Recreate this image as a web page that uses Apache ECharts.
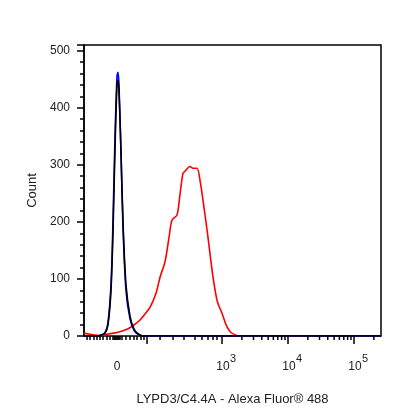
<!DOCTYPE html>
<html><head><meta charset="utf-8">
<script src="https://cdn.jsdelivr.net/npm/echarts@6/dist/echarts.min.js"></script>
<style>html,body{margin:0;padding:0;background:#fff}#c{width:416px;height:416px}</style>
</head><body><div id="c"></div>
<script>
// x in display units: 10^3 -> 3, 10^4 -> 4, 10^5 -> 5 (biexponential scale)
const redX=[0.909,1.0,1.152,1.3,1.409,1.561,1.65,1.758,1.83,1.909,2.0,2.061,2.136,2.2,2.242,2.318,2.36,2.409,2.45,2.515,2.56,2.621,2.67,2.712,2.78,2.864,2.93,3.0,3.06,3.121,3.2,3.273,5.409];
const redY=[5,3,1,4,6,12,18,28,38,50,75,103,130,175,203,212,245,285,290,297,294,294,270,238,180,103,60,40,20,8,2,0,0];
const blkX=[0.909,1.076,1.152,1.227,1.273,1.318,1.348,1.379,1.409,1.424,1.439,1.470,1.5,1.545,1.606,1.667,1.727,1.803,5.409];
const blkY=[0,0,1,5,20,80,180,330,440,448,430,320,200,90,35,12,4,0,0];
const bluY=[0,0,1,6,24,90,200,350,455,462,440,320,190,80,30,10,3,0,0];
const minorTicks=[0.955,1.0,1.061,1.106,1.152,1.197,1.258,1.303,1.348,1.364,1.379,1.394,1.409,1.424,1.439,1.455,1.485,1.545,1.606,1.667,1.712,1.773,1.818,2.061,2.258,2.424,2.591,2.697,2.788,2.864,2.924];
const majorTicks=[1.864,3,4,5];
const xLabels=[{v:1.409,t:'0'},{v:3,t:'10',s:'3'},{v:4,t:'10',s:'4'},{v:5,t:'10',s:'5'}];
for(let d=3;d<=5;d++)for(let k=2;k<=9;k++){const v=d+Math.log10(k);if(v<5.409)minorTicks.push(v);}

const pair=(xs,ys)=>xs.map((x,i)=>[x,ys[i]]);
const tickData=minorTicks.map(v=>[v,4]).concat(majorTicks.map(v=>[v,8]));
const chart=echarts.init(document.getElementById('c'));
chart.setOption({
  animation:false,
  grid:{left:84,right:35,top:45,bottom:80,show:true,borderColor:'#000',borderWidth:1.5,backgroundColor:'transparent'},
  xAxis:{type:'value',min:0.909,max:5.409,axisLine:{show:false},axisTick:{show:false},axisLabel:{show:false},splitLine:{show:false},
    name:'LYPD3/C4.4A - Alexa Fluor® 488',nameLocation:'middle',nameGap:57,nameTextStyle:{fontFamily:'Liberation Sans',fontSize:13,color:'#222'}},
  yAxis:{type:'value',min:0,max:510,interval:100,minorTick:{show:true,splitNumber:5,length:4,lineStyle:{color:'#000',width:1.5}},
    axisLine:{show:true,lineStyle:{color:'#000',width:1.5}},axisTick:{show:true,length:7,lineStyle:{color:'#000',width:1.5}},
    splitLine:{show:false},axisLabel:{margin:14,color:'#222',fontFamily:'Liberation Sans',fontSize:12,formatter:v=>v%100===0?v:''},
    name:'Count',nameLocation:'middle',nameGap:42,nameTextStyle:{fontFamily:'Liberation Sans',fontSize:13,color:'#222'}},
  series:[
    {type:'line',data:pair(redX,redY),showSymbol:false,smooth:0.3,lineStyle:{color:'#ff0000',width:1.6},z:3},
    {type:'line',data:pair(blkX,bluY),showSymbol:false,smooth:0.3,lineStyle:{color:'#0000ff',width:1.6},z:4},
    {type:'line',data:pair(blkX,blkY),showSymbol:false,smooth:0.3,lineStyle:{color:'#000',width:1.6},z:5},
    {type:'custom',clip:false,data:tickData,z:6,renderItem:(p,api)=>{
      const pt=api.coord([api.value(0),0]);const y0=p.coordSys.y+p.coordSys.height;
      return {type:'line',shape:{x1:pt[0],y1:y0,x2:pt[0],y2:y0+api.value(1)},style:{stroke:'#000',lineWidth:1.5}};}},
    {type:'custom',clip:false,data:xLabels.map(l=>[l.v]),z:6,renderItem:(p,api)=>{
      const l=xLabels[p.dataIndex];const pt=api.coord([l.v,0]);const y0=p.coordSys.y+p.coordSys.height;
      const ch=[{type:'text',style:{text:l.t,x:pt[0]+(l.s?1:0),y:y0+31,align:'center',verticalAlign:'middle',fill:'#222',font:'12px Liberation Sans'}}];
      if(l.s)ch.push({type:'text',style:{text:l.s,x:pt[0]+8,y:y0+23,align:'left',verticalAlign:'middle',fill:'#222',font:'11px Liberation Sans'}});
      return {type:'group',children:ch};}}
  ]
});
</script></body></html>
